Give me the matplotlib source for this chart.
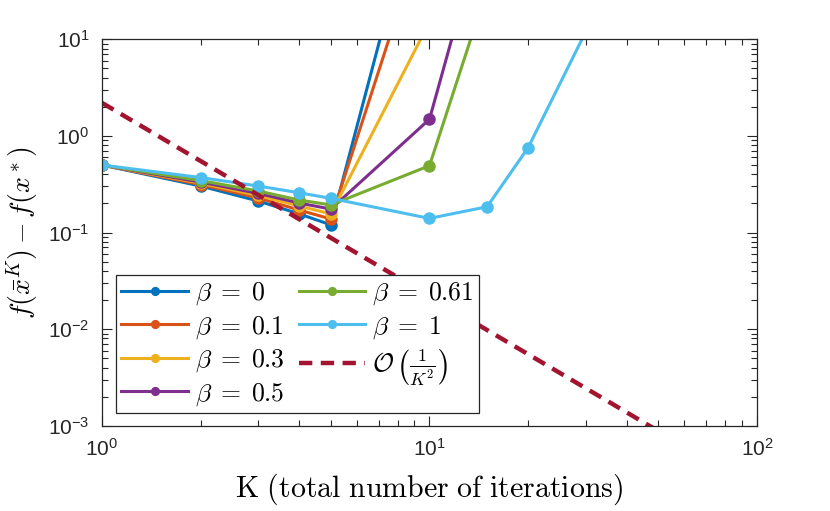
import numpy as np
import matplotlib
matplotlib.use("Agg")
import matplotlib.pyplot as plt

plt.rcParams['mathtext.fontset'] = 'custom'
plt.rcParams['mathtext.rm'] = 'Liberation Sans'
plt.rcParams['mathtext.it'] = 'Liberation Sans:italic'
plt.rcParams['mathtext.bf'] = 'Liberation Sans:bold'
plt.rcParams['font.family'] = ['Liberation Sans', 'DejaVu Sans']

# ---- data ----
K = [1, 2, 3, 4, 5, 10, 15, 20, 30]
labels = [r'$\beta\;=\;0$', r'$\beta\;=\;0.1$', r'$\beta\;=\;0.3$', r'$\beta\;=\;0.5$',
          r'$\beta\;=\;0.61$', r'$\beta\;=\;1$']
colors = ['#0072BD', '#D95319', '#EDB120', '#7E2F8E', '#77AC30', '#4DBEEE']
beta_0 = [0.5, 0.303, 0.212, 0.156, 0.120, 870]
beta_01 = [0.5, 0.314, 0.228, 0.171, 0.138, 200]
beta_03 = [0.5, 0.325, 0.242, 0.188, 0.156, 15.1]
beta_05 = [0.5, 0.333, 0.254, 0.202, 0.175, 1.49, 210]
beta_061 = [0.5, 0.345, 0.269, 0.217, 0.193, 0.492, 33.5]
beta_1 = [0.5, 0.371, 0.303, 0.258, 0.226, 0.140, 0.185, 0.755, 12]
series = [beta_0, beta_01, beta_03, beta_05, beta_061, beta_1]
ref_K = [1, 100]
ref_C = 2.2
ref_label = r'$\mathcal{O}\,\left(\frac{1}{K^2}\right)$'
dash_color = '#A2142F'

fig = plt.figure(figsize=(8.30, 5.11), dpi=100)
ax = fig.add_axes([0.1229, 0.1669, 0.912 - 0.1229, 0.923 - 0.1669])

for vals, lab, col in zip(series, labels, colors):
    ax.plot(K[:len(vals)], vals, '-o', color=col, lw=2.2, ms=8, label=lab)

kk = np.logspace(np.log10(ref_K[0]), np.log10(ref_K[1]), 200)
ax.plot(kk, ref_C / kk**2, '--', color=dash_color, lw=3.2, dashes=(3.0, 1.9),
        label=ref_label)

ax.set_xscale('log')
ax.set_yscale('log')
ax.set_xlim(1, 100)
ax.set_ylim(1e-3, 10)

ax.set_xticks([1, 10, 100], labels=[r'$10^{0}$', r'$10^{1}$', r'$10^{2}$'])
ax.set_yticks([1e-3, 1e-2, 1e-1, 1, 10],
              labels=[r'$10^{-3}$', r'$10^{-2}$', r'$10^{-1}$', r'$10^{0}$', r'$10^{1}$'])
ax.tick_params(which='both', direction='in', top=True, right=True,
               colors='#262626', labelsize=15, width=0.8)
ax.tick_params(which='major', length=7, pad=9)
ax.tick_params(which='minor', length=4)
for sp in ax.spines.values():
    sp.set_color('#262626')
    sp.set_linewidth(0.9)

xl = ax.set_xlabel(r'$\mathrm{K\ (total\ number\ of\ iterations)}$', fontsize=21.5, labelpad=8)
yl = ax.set_ylabel(r'$f(\bar{x}^K) - f(x^*)$', fontsize=20, labelpad=5)
xl.set_math_fontfamily('cm')
yl.set_math_fontfamily('cm')

leg = ax.legend(loc='lower left', bbox_to_anchor=(0.021, 0.032), borderaxespad=0,
                ncol=2, fontsize=18.5, handlelength=2.6, markerscale=0.7,
                fancybox=False, framealpha=1, edgecolor='#262626',
                labelspacing=0.26, columnspacing=0.55, handletextpad=0.25,
                borderpad=0.22)
leg.get_frame().set_linewidth(0.9)
for t in leg.get_texts():
    t.set_math_fontfamily('cm')

fig.savefig('out.png', dpi=100)
